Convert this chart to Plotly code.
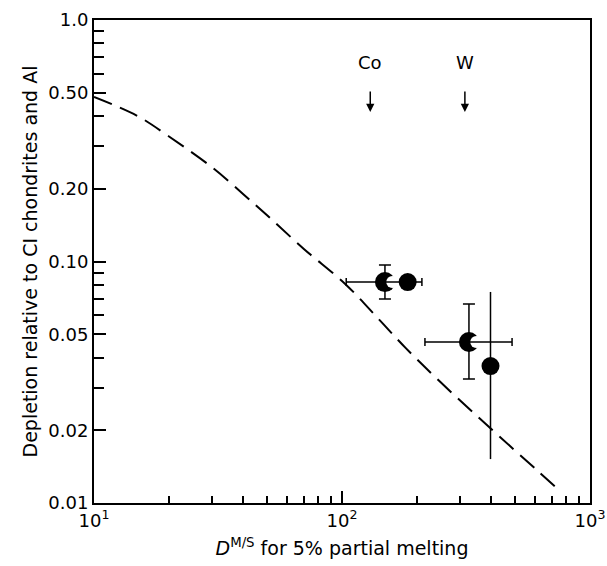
import numpy as np
import plotly.graph_objects as go

# ---- data ----
# model curve (dashed)
curve_D = [10, 15, 20, 30, 40, 50, 70, 104, 140, 180, 250, 405, 600, 766]
curve_dep = [0.48, 0.40, 0.33, 0.245, 0.19, 0.155, 0.113, 0.080, 0.058, 0.044, 0.0316, 0.020, 0.0139, 0.0111]

# crescent symbols (Co, W) with error bars
cres_D = [149, 325]
cres_dep = [0.0822, 0.0464]
cres_D_lo = [104, 216]
cres_D_hi = [210, 485]
cres_dep_lo = [0.070, 0.0326]
cres_dep_hi = [0.0967, 0.0667]

# filled circles (Co, W)
circ_D = [184, 397]
circ_dep = [0.0822, 0.0369]
circ_dep_lo = [None, 0.0152]
circ_dep_hi = [None, 0.0748]

# element markers (arrows)
elem_names = ["Co", "W"]
elem_D = [130, 313]
elem_text_y = 0.67
elem_arrow_tip = 0.416

y_ticks = [1.0, 0.5, 0.2, 0.1, 0.05, 0.02, 0.01]
y_ticktext = ["1.0", "0.50", "0.20", "0.10", "0.05", "0.02", "0.01"]
y_minor = [0.9, 0.8, 0.7, 0.6, 0.4, 0.3, 0.09, 0.08, 0.07, 0.06, 0.04, 0.03]
x_ticks = [10, 100, 1000]
x_ticktext = ["10<sup>1</sup>", "10<sup>2</sup>", "10<sup>3</sup>"]
x_minor = [20, 30, 40, 50, 60, 70, 80, 90, 200, 300, 400, 500, 600, 700, 800, 900]

FONT = "DejaVu Sans"
fig = go.Figure()

fig.add_trace(go.Scatter(x=curve_D, y=curve_dep, mode="lines", line_shape="spline",
                         line=dict(color="black", width=2, dash="19px,9px"), showlegend=False))

# crescent: black disk with white bite on the right
fig.add_trace(go.Scatter(x=cres_D, y=cres_dep, mode="markers",
                         marker=dict(symbol="circle", size=20, color="black"), showlegend=False))
bite_x = [d * 1.07 for d in cres_D]
fig.add_trace(go.Scatter(x=bite_x, y=cres_dep, mode="markers",
                         marker=dict(symbol="circle", size=12, color="white"), showlegend=False))

fig.add_trace(go.Scatter(x=circ_D, y=circ_dep, mode="markers",
                         marker=dict(symbol="circle", size=18, color="black"), showlegend=False))

# error bars for crescents
fig.add_trace(go.Scatter(
    x=cres_D, y=cres_dep, mode="markers",
    marker=dict(size=1, color="rgba(0,0,0,0)"),
    error_x=dict(type="data", symmetric=False,
                 array=[h - d for h, d in zip(cres_D_hi, cres_D)],
                 arrayminus=[d - l for d, l in zip(cres_D, cres_D_lo)],
                 color="black", thickness=1.5, width=4),
    error_y=dict(type="data", symmetric=False,
                 array=[h - d for h, d in zip(cres_dep_hi, cres_dep)],
                 arrayminus=[d - l for d, l in zip(cres_dep, cres_dep_lo)],
                 color="black", thickness=1.5, width=6),
    showlegend=False))

# error bar for W circle (no caps)
ex = [d for d, h in zip(circ_D, circ_dep_hi) if h is not None]
ey = [d for d, h in zip(circ_dep, circ_dep_hi) if h is not None]
eh = [h for h in circ_dep_hi if h is not None]
el = [l for l in circ_dep_lo if l is not None]
fig.add_trace(go.Scatter(
    x=ex, y=ey, mode="markers", marker=dict(size=1, color="rgba(0,0,0,0)"),
    error_y=dict(type="data", symmetric=False,
                 array=[h - d for h, d in zip(eh, ey)],
                 arrayminus=[d - l for d, l in zip(ey, el)],
                 color="black", thickness=1.5, width=0),
    showlegend=False))

for name, d in zip(elem_names, elem_D):
    fig.add_annotation(x=np.log10(d), y=np.log10(elem_text_y), text=name, showarrow=False,
                       font=dict(family=FONT, size=18, color="black"))
    fig.add_annotation(x=np.log10(d), y=np.log10(elem_arrow_tip), text="", showarrow=True,
                       ax=0, ay=-22, arrowhead=2, arrowsize=1.1, arrowwidth=1.5,
                       arrowcolor="black")

fig.update_layout(
    width=607, height=566,
    margin=dict(l=94, r=17, t=20, b=63),
    paper_bgcolor="white", plot_bgcolor="white",
    font=dict(family=FONT, size=18, color="black"),
    xaxis=dict(type="log", range=[1, 3], tickmode="array", tickvals=x_ticks, ticktext=x_ticktext,
               ticks="inside", ticklen=12, tickwidth=1.5, tickcolor="black", automargin=False,
               showline=True, linewidth=2, linecolor="black", mirror=True, showgrid=False,
               zeroline=False,
               minor=dict(tickmode="array", tickvals=x_minor, ticks="inside", ticklen=7,
                          tickwidth=1.5, tickcolor="black", showgrid=False),
               title=dict(text="<i>D</i><sup>M/S</sup> for 5% partial melting",
                          font=dict(size=19), standoff=12)),
    yaxis=dict(type="log", range=[-2, 0], tickmode="array", tickvals=y_ticks, ticktext=y_ticktext,
               ticks="inside", ticklen=12, tickwidth=1.5, tickcolor="black", automargin=False,
               showline=True, linewidth=2, linecolor="black", mirror=True, showgrid=False,
               zeroline=False,
               minor=dict(tickmode="array", tickvals=y_minor, ticks="inside", ticklen=10,
                          tickwidth=1.5, tickcolor="black", showgrid=False),
               title=dict(text="Depletion relative to CI chondrites and Al",
                          font=dict(size=19), standoff=6)),
)

fig.write_html("out.html")
